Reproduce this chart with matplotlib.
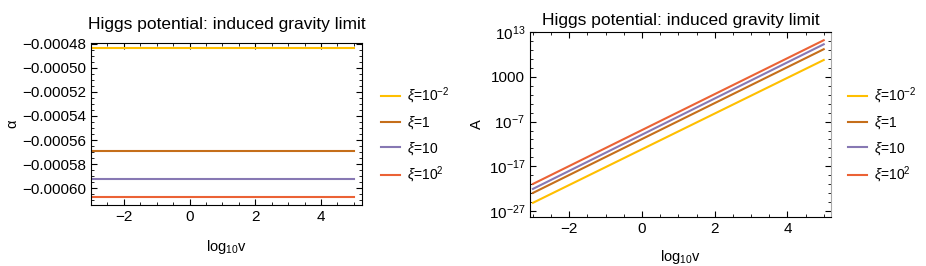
import numpy as np
import matplotlib
matplotlib.use("Agg")
import matplotlib.pyplot as plt
from matplotlib.ticker import MultipleLocator, FixedLocator, NullFormatter

plt.rcParams['font.family'] = ['Liberation Sans', 'DejaVu Sans']
plt.rcParams['mathtext.fontset'] = 'custom'
plt.rcParams['mathtext.rm'] = 'Liberation Sans'
plt.rcParams['mathtext.it'] = 'Liberation Sans:italic'
plt.rcParams['font.size'] = 10

# ---------------- data ----------------
labels = [r"$\xi$=10$^{-2}$", r"$\xi$=1", r"$\xi$=10", r"$\xi$=10$^{2}$"]
colors = ["#FFBF00", "#C56E1A", "#8778B3", "#EB6235"]

log10v = [-3, 5]  # x range of every curve

# left panel: alpha is constant in log10 v
alpha_vals = [-0.000484, -0.000569, -0.000592, -0.000607]

# right panel: A at the two ends of the range (straight lines on log scale)
A_start = [10**-25.1, 10**-22.9, 10**-22.0, 10**-20.9]
A_end = [10**6.7, 10**9.1, 10**10.2, 10**11.1]

fig = plt.figure(figsize=(9.26, 2.66), dpi=100)
ax1 = fig.add_axes([0.0983, 0.2293, 0.2927, 0.609])
ax2 = fig.add_axes([0.5724, 0.1842, 0.325, 0.6966])

# ---------------- left: alpha ----------------
for val, c, lab in zip(alpha_vals, colors, labels):
    ax1.plot(log10v, [val, val], color=c, lw=1.5, label=lab)
ax1.set_xlim(-3, 5.25)
ax1.set_ylim(-0.0006138, -0.0004795)
ax1.xaxis.set_major_locator(MultipleLocator(2))
ax1.xaxis.set_minor_locator(MultipleLocator(0.5))
ax1.yaxis.set_major_locator(MultipleLocator(0.00002))
ax1.yaxis.set_minor_locator(MultipleLocator(0.000005))
ax1.yaxis.set_major_formatter(plt.FuncFormatter(lambda v, p: "\u2212%.5f" % abs(v) if v < 0 else "%.5f" % v))
ax1.tick_params(which='both', direction='in', top=True, right=True, labelsize=11)
ax1.tick_params(which='major', length=4, width=0.8)
ax1.tick_params(which='minor', length=2, width=0.6)
ax1.set_title("Higgs potential: induced gravity limit", fontsize=12.5, pad=10)
ax1.set_xlabel(r"log$_{10}$v", fontsize=10.5, labelpad=10)
ax1.set_ylabel("α", fontsize=10.5, labelpad=2)
ax1.legend(loc='upper left', bbox_to_anchor=(0.398, 0.725), bbox_transform=fig.transFigure,
           frameon=False, handlelength=1.4, handletextpad=0.5, labelspacing=0.6, fontsize=10)

# ---------------- right: A ----------------
for a0, a1, c, lab in zip(A_start, A_end, colors, labels):
    ax2.plot(log10v, [a0, a1], color=c, lw=1.5, label=lab)
ax2.set_yscale('log')
ax2.set_xlim(-3.08, 5.2)
ax2.set_ylim(10**-28.26, 1e13)
ax2.xaxis.set_major_locator(MultipleLocator(2))
ax2.xaxis.set_minor_locator(MultipleLocator(0.5))
ax2.yaxis.set_major_locator(FixedLocator([1e-27, 1e-17, 1e-7, 1e3, 1e13]))
ax2.set_yticklabels([r"10$^{-27}$", r"10$^{-17}$", r"10$^{-7}$", "1000", r"10$^{13}$"])
ax2.yaxis.set_minor_locator(FixedLocator([10.0**k for k in range(-27, 14, 2)]))
ax2.yaxis.set_minor_formatter(NullFormatter())
ax2.tick_params(which='both', direction='in', top=True, right=True, labelsize=11)
ax2.tick_params(which='major', length=4, width=0.8)
ax2.tick_params(which='minor', length=2, width=0.6)
ax2.spines['right'].set_color('#aaaaaa')
for t in ax2.yaxis.get_ticklines(minor=False)[1::2] + ax2.yaxis.get_ticklines(minor=True)[1::2]:
    t.set_color('#aaaaaa')
ax2.set_title("Higgs potential: induced gravity limit", fontsize=12.5, pad=5)
ax2.set_xlabel(r"log$_{10}$v", fontsize=10.5, labelpad=9)
ax2.set_ylabel("A", fontsize=10.5, labelpad=3)
ax2.legend(loc='upper left', bbox_to_anchor=(0.902, 0.725), bbox_transform=fig.transFigure,
           frameon=False, handlelength=1.4, handletextpad=0.5, labelspacing=0.6, fontsize=10)

fig.savefig("out.png", dpi=100)
